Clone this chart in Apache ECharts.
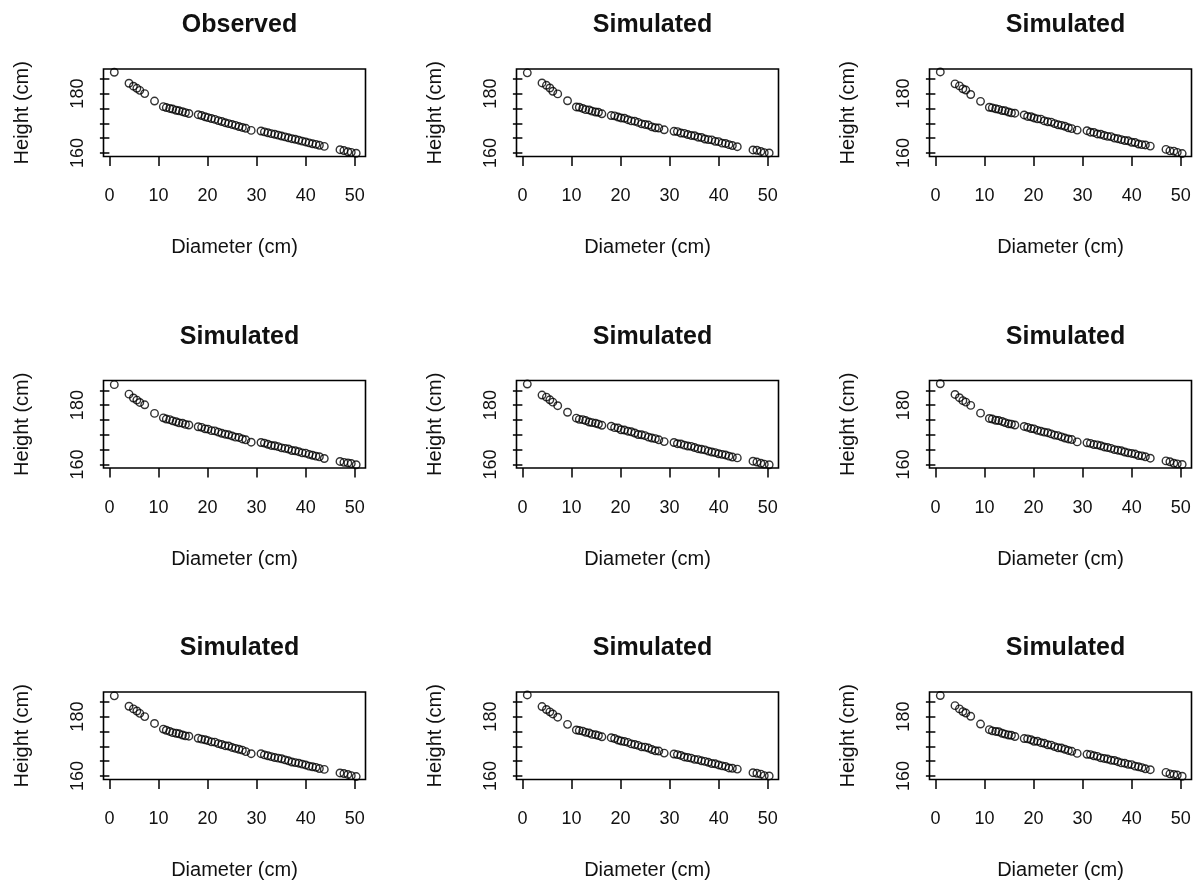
<!DOCTYPE html>
<html>
<head>
<meta charset="utf-8">
<title>Observed vs simulated</title>
<script src="https://cdn.jsdelivr.net/npm/echarts@6/dist/echarts.min.js"></script>
<style>
  html, body { margin: 0; padding: 0; background: #fff; }
  #chart { width: 1197px; height: 882px; }
</style>
</head>
<body>
<div id="chart"></div>
<script>
// panel titles, row by row
const titles = ["Observed", "Simulated", "Simulated", "Simulated", "Simulated", "Simulated", "Simulated", "Simulated", "Simulated"];

// diameter (cm), shared by all panels
const diameter = [1.0, 4.0, 4.9, 5.6, 6.2, 7.2, 9.2,
  11.0, 11.6, 12.3, 12.9, 13.6, 14.2, 14.9, 15.5, 16.2,
  18.1, 18.8, 19.5, 20.1, 20.8, 21.5, 22.2, 22.9, 23.6, 24.3, 25.0, 25.7, 26.4, 27.1, 27.8, 28.9,
  30.9, 31.6, 32.3, 33.0, 33.7, 34.4, 35.1, 35.8, 36.5, 37.2, 37.9, 38.6, 39.3, 40.0, 40.7, 41.4, 42.1, 42.8, 43.8,
  47.0, 47.8, 48.6, 49.3, 50.3];

// height (cm) per panel
const heightObserved = [187.2, 183.5, 182.5, 181.8, 181.1, 180.0, 177.5,
  175.6, 175.3, 175.0, 174.8, 174.4, 174.2, 173.9, 173.6, 173.3,
  172.9, 172.6, 172.2, 171.9, 171.6, 171.3, 170.9, 170.6, 170.2, 169.9, 169.6, 169.3, 168.9, 168.6, 168.3, 167.6,
  167.4, 167.1, 166.8, 166.5, 166.3, 166.0, 165.7, 165.4, 165.1, 164.8, 164.6, 164.3, 164.0, 163.7, 163.4, 163.1, 162.9, 162.6, 162.2,
  161.1, 160.8, 160.4, 160.2, 159.9];
const heightSim1 = [187.0, 183.6, 182.8, 181.9, 180.8, 179.9, 177.6,
  175.5, 175.4, 175.0, 174.6, 174.5, 174.1, 173.8, 173.7, 173.2,
  172.6, 172.5, 172.1, 171.8, 171.7, 171.2, 170.8, 170.7, 170.3, 169.8, 169.6, 169.4, 168.8, 168.5, 168.4, 167.8,
  167.3, 167.2, 166.7, 166.6, 166.2, 165.9, 165.8, 165.3, 165.2, 164.7, 164.5, 164.4, 163.9, 163.8, 163.3, 163.2, 162.8, 162.5, 162.1,
  161.0, 160.9, 160.5, 160.1, 160.0];
const heightSim2 = [187.3, 183.3, 182.6, 181.6, 181.2, 179.7, 177.4,
  175.4, 175.2, 174.9, 174.7, 174.3, 174.2, 173.8, 173.5, 173.4,
  172.8, 172.3, 172.2, 171.8, 171.5, 171.4, 170.8, 170.5, 170.4, 169.9, 169.5, 169.3, 169.0, 168.5, 168.2, 167.7,
  167.5, 167.0, 166.9, 166.4, 166.3, 165.9, 165.6, 165.5, 165.0, 164.8, 164.5, 164.2, 164.1, 163.6, 163.5, 163.0, 162.8, 162.7, 162.3,
  161.2, 160.7, 160.6, 160.2, 159.8];
const heightSim3 = [186.9, 183.7, 182.4, 181.7, 180.9, 180.1, 177.2,
  175.7, 175.3, 175.1, 174.7, 174.4, 174.0, 173.9, 173.5, 173.3,
  172.7, 172.5, 172.0, 171.9, 171.4, 171.3, 170.9, 170.5, 170.2, 170.0, 169.6, 169.2, 169.1, 168.6, 168.3, 167.5,
  167.4, 167.2, 166.8, 166.4, 166.3, 166.0, 165.6, 165.4, 165.2, 164.7, 164.6, 164.3, 163.9, 163.8, 163.4, 163.1, 162.8, 162.6, 162.0,
  161.0, 160.7, 160.5, 160.3, 159.9];
const heightSim4 = [187.1, 183.4, 182.7, 181.8, 181.0, 179.8, 177.6,
  175.6, 175.2, 175.1, 174.8, 174.3, 174.1, 173.9, 173.6, 173.2,
  172.9, 172.4, 172.3, 171.7, 171.6, 171.2, 171.0, 170.6, 170.1, 170.0, 169.7, 169.2, 168.9, 168.7, 168.3, 167.7,
  167.4, 167.0, 166.9, 166.5, 166.2, 166.1, 165.7, 165.3, 165.1, 164.9, 164.5, 164.2, 164.0, 163.6, 163.4, 163.2, 162.8, 162.5, 162.2,
  161.1, 160.8, 160.4, 160.1, 159.9];
const heightSim5 = [187.2, 183.6, 182.5, 181.5, 181.0, 179.9, 177.3,
  175.5, 175.3, 174.9, 174.8, 174.5, 174.1, 173.7, 173.6, 173.3,
  172.8, 172.5, 172.1, 172.0, 171.5, 171.2, 170.9, 170.7, 170.3, 169.9, 169.7, 169.3, 168.9, 168.6, 168.4, 167.6,
  167.3, 167.1, 166.7, 166.6, 166.3, 165.9, 165.7, 165.4, 165.0, 164.8, 164.6, 164.2, 163.9, 163.7, 163.5, 163.0, 162.9, 162.6, 162.1,
  161.2, 160.9, 160.4, 160.2, 160.0];
const heightSim6 = [187.0, 183.5, 182.6, 181.9, 181.1, 180.0, 177.7,
  175.8, 175.4, 175.0, 174.6, 174.4, 174.2, 173.8, 173.5, 173.4,
  172.7, 172.4, 172.2, 171.9, 171.5, 171.4, 170.9, 170.6, 170.2, 170.1, 169.6, 169.3, 169.0, 168.7, 168.2, 167.5,
  167.5, 167.1, 166.8, 166.5, 166.2, 166.0, 165.8, 165.4, 165.1, 164.7, 164.5, 164.3, 164.0, 163.7, 163.3, 163.1, 162.9, 162.5, 162.2,
  161.0, 160.8, 160.5, 160.1, 159.8];
const heightSim7 = [187.3, 183.4, 182.4, 181.6, 180.9, 179.8, 177.4,
  175.5, 175.3, 175.1, 174.7, 174.5, 174.0, 173.9, 173.6, 173.2,
  172.9, 172.6, 172.1, 171.8, 171.6, 171.3, 170.8, 170.6, 170.3, 169.8, 169.7, 169.4, 168.9, 168.5, 168.4, 167.7,
  167.4, 167.2, 166.9, 166.4, 166.2, 166.0, 165.6, 165.5, 165.1, 164.9, 164.6, 164.2, 164.1, 163.7, 163.4, 163.2, 162.7, 162.6, 162.3,
  161.1, 160.9, 160.6, 160.1, 160.0];
const heightSim8 = [187.1, 183.7, 182.6, 181.7, 181.2, 180.1, 177.5,
  175.6, 175.2, 175.0, 174.9, 174.4, 174.1, 173.8, 173.7, 173.3,
  172.6, 172.5, 172.2, 171.7, 171.7, 171.2, 171.0, 170.5, 170.4, 169.9, 169.5, 169.4, 169.0, 168.6, 168.3, 167.6,
  167.3, 167.2, 166.8, 166.6, 166.1, 165.9, 165.7, 165.3, 165.2, 164.8, 164.4, 164.3, 163.9, 163.8, 163.3, 163.1, 162.8, 162.4, 162.1,
  161.2, 160.7, 160.5, 160.3, 159.9];

const heights = [heightObserved, heightSim1, heightSim2, heightSim3, heightSim4, heightSim5, heightSim6, heightSim7, heightSim8];

// tick marks and labels
const xTicks = [0, 10, 20, 30, 40, 50];
const yTicks = [160, 165, 170, 175, 180, 185];
const yLabels = [160, 180];

const FONT = "'Liberation Sans', Arial, sans-serif";
const INK = "#111";

const chart = echarts.init(document.getElementById("chart"), null, { renderer: "canvas" });

const grid = [], xAxis = [], yAxis = [], series = [], title = [];
heights.forEach((h, i) => {
  const col = i % 3, row = Math.floor(i / 3);
  const left = 103.5 + col * 413;
  const top = 69 + row * 311.5;
  grid.push({
    left, top, width: 262, height: 87.5,
    show: true, borderColor: "#000", borderWidth: 1.6, backgroundColor: "transparent"
  });
  title.push({
    text: titles[i],
    left: left + 131, top: top - 61, textAlign: "center",
    textStyle: { fontFamily: FONT, fontWeight: "bold", fontSize: 25, color: INK }
  });
  xAxis.push({
    gridIndex: i, type: "value", min: -1.2, max: 52.2,
    name: "Diameter (cm)", nameLocation: "middle", nameGap: 81,
    nameTextStyle: { fontFamily: FONT, fontSize: 20, color: INK },
    axisLine: { show: false },
    splitLine: { show: false },
    axisTick: { show: true, inside: false, length: 9.5, customValues: xTicks, lineStyle: { color: "#000", width: 1.5 } },
    axisLabel: { customValues: xTicks, margin: 31, fontFamily: FONT, fontSize: 18, color: INK }
  });
  yAxis.push({
    gridIndex: i, type: "value", min: 158.8, max: 188.3,
    name: "Height (cm)", nameLocation: "middle", nameGap: 71,
    nameTextStyle: { fontFamily: FONT, fontSize: 20, color: INK },
    axisLine: { show: false },
    splitLine: { show: false },
    axisTick: { show: true, inside: false, length: 9.5, customValues: yTicks, lineStyle: { color: "#000", width: 1.5 } },
    axisLabel: { customValues: yLabels, rotate: 90, margin: 16, fontFamily: FONT, fontSize: 18, color: INK }
  });
  series.push({
    type: "scatter", xAxisIndex: i, yAxisIndex: i,
    data: diameter.map((d, k) => [d, h[k]]),
    symbol: "circle", symbolSize: 7.5,
    itemStyle: { color: "transparent", borderColor: "#000", borderWidth: 1.4 },
    silent: true
  });
});

chart.setOption({
  backgroundColor: "#fff",
  animation: false,
  title, grid, xAxis, yAxis, series
});
</script>
</body>
</html>
